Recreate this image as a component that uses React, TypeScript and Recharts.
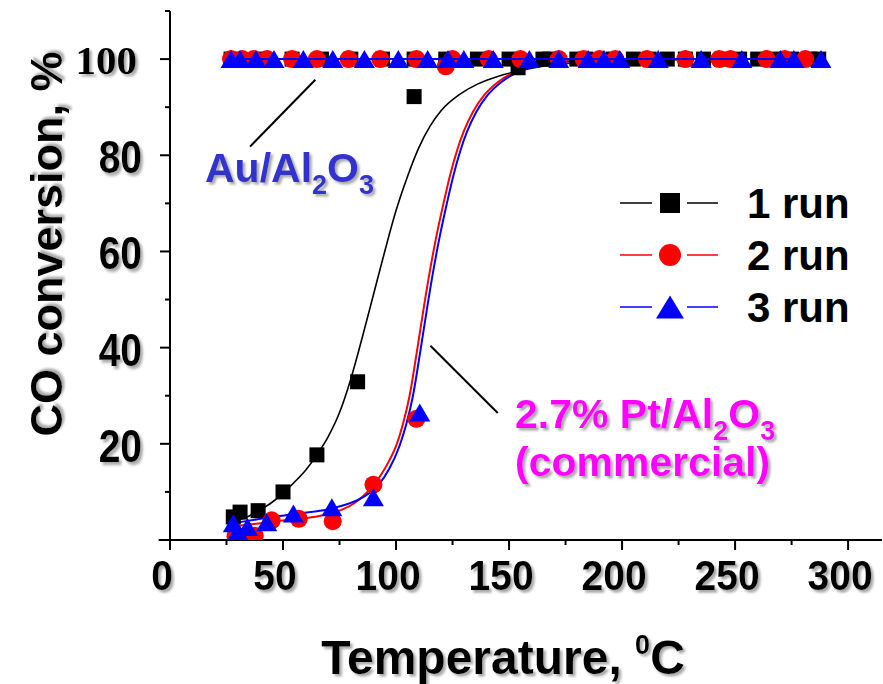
import React from 'react'
import { ComposedChart, Line, Scatter, XAxis, YAxis, ReferenceLine } from 'recharts'

const W = 883
const H = 684

// Au/Al2O3: full conversion over the whole temperature range
const auRun1T = [27, 40, 54, 67, 80, 94, 108, 122, 136, 150, 165, 180, 196, 212, 228, 244, 260, 275, 287]
const auRun1Y = [100, 100, 100, 100, 100, 100, 100, 100, 100, 100, 100, 100, 100, 100, 100, 100, 100, 100, 100]
const auRun2T = [27, 32, 37, 43, 54, 65, 79, 93, 109, 125, 141, 172, 190, 211, 243, 264, 281]
const auRun2Y = [100, 100, 100, 100, 100, 100, 100, 100, 100, 100, 100, 100, 100, 100, 100, 100, 100]
const auRun3T = [27, 31, 38, 46, 59, 72, 86, 101, 114, 123, 130, 143, 172, 192, 216, 253, 276]
const auRun3Y = [100, 100, 100, 100, 100, 100, 100, 100, 100, 100, 100, 100, 100, 100, 100, 100, 100]

// 2.7% Pt/Al2O3 (commercial), measured points
const ptRun1T = [28, 31, 39, 50, 65, 83, 108, 154, 168, 184, 205, 220, 236, 252, 268, 283]
const ptRun1Y = [4.8, 5.8, 6.1, 10.0, 17.7, 32.9, 92.2, 98.2, 100, 100, 100, 100, 100, 100, 100, 100]
const ptRun2T = [29, 31.5, 34, 37.5, 45, 57, 72, 90, 109, 122, 155, 183, 197, 228, 248, 272]
const ptRun2Y = [0.8, 0.5, 0.6, 0.9, 4.1, 4.4, 3.9, 11.5, 25.2, 98.5, 100, 100, 100, 100, 100, 100]
const ptRun3T = [28, 30, 34.3, 42.8, 54.6, 71.6, 90, 110.5, 159, 185, 199, 235, 270, 288]
const ptRun3Y = [3.5, 1.8, 2.7, 3.7, 5.5, 6.8, 8.9, 26.5, 100, 100, 100, 100, 100, 100]

// sigmoidal fits through each Pt run
const fit1T = [28, 35, 40, 45, 50, 55, 60, 65, 70, 75, 80, 85, 90, 95, 100, 105, 110, 115, 120, 128, 136, 145, 155, 165, 180, 200, 230, 260, 288]
const fit1Y = [3.8, 5.0, 6.3, 7.8, 9.7, 12, 14.5, 17.7, 21.5, 26.5, 33.5, 42, 51, 60, 68.5, 75.5, 81.5, 86, 89.3, 92.6, 94.8, 96.4, 97.6, 98.5, 99.3, 99.7, 99.9, 100, 100]
const fit2T = [28, 35, 45, 55, 65, 75, 82, 88, 93, 97, 100, 103, 106, 109, 112, 115, 118, 121, 124, 127, 130, 134, 139, 145, 152, 160, 170, 185, 200, 230, 260, 288]
const fit2Y = [2.8, 3.2, 3.8, 4.3, 4.9, 6.1, 7.8, 10.3, 13.3, 16.5, 19.5, 24, 30, 38.5, 47.5, 56, 63.5, 70, 76, 81, 85, 89, 92.5, 95.2, 97.2, 98.5, 99.3, 99.7, 99.9, 100, 100, 100]
const fit3T = [28, 40, 55, 72, 85, 92, 97, 101.5, 104.5, 107.5, 110.5, 113.5, 116.5, 119.5, 122.5, 125.5, 128.5, 131.5, 135.5, 140.5, 146.5, 153.5, 161.5, 171.5, 186, 200, 230, 260, 288]
const fit3Y = [3.5, 4.4, 5.4, 6.6, 8.8, 11.3, 14.8, 19.5, 24, 30, 38.5, 47.5, 56, 63.5, 70, 76, 81, 85, 89, 92.5, 95.2, 97.2, 98.5, 99.3, 99.7, 99.85, 100, 100, 100]

const xTicks = [0, 25, 50, 75, 100, 125, 150, 175, 200, 225, 250, 275, 300]
const xLabels = [0, 50, 100, 150, 200, 250, 300]
const yTicks = [0, 10, 20, 30, 40, 50, 60, 70, 80, 90, 100, 110]
const yLabels = [20, 40, 60, 80, 100]

const runNames = ['1 run', '2 run', '3 run']
const runColors = ['#000000', '#ff0000', '#0000ff']

const zip = (t: number[], y: number[]) => t.map((x, i) => ({ x, y: y[i] }))

const SANS = '"Liberation Sans", Arial, sans-serif'
const SERIF = '"Liberation Serif", "Times New Roman", serif'

function Square({ cx, cy, size = 15, color = '#000' }: any) {
  return <rect x={cx - size / 2} y={cy - size / 2} width={size} height={size} fill={color} />
}

function Dot({ cx, cy, r = 9, color = '#ff0000' }: any) {
  return <circle cx={cx} cy={cy} r={r} fill={color} />
}

function Tri({ cx, cy, w = 21, h = 18, color = '#0000ff' }: any) {
  return (
    <polygon
      points={`${cx},${cy - h / 2} ${cx + w / 2},${cy + h / 2} ${cx - w / 2},${cy + h / 2}`}
      fill={color}
    />
  )
}

function XTick(props: any) {
  const { x, y, payload } = props
  const v = payload.value
  const major = xLabels.includes(v)
  return (
    <g>
      <line x1={x} x2={x} y1={y} y2={y + (major ? 10 : 5)} stroke="#000" strokeWidth={2} />
      {major && (
        <g transform={`translate(${x - 8},${y + 50}) scale(1,1.08)`}>
          <text
            x={0}
            y={0}
            textAnchor="middle"
            fontFamily={SANS}
            fontWeight="bold"
            fontSize={39}
            fill="#000"
            filter="url(#txtShadow)"
          >
            {v}
          </text>
        </g>
      )}
    </g>
  )
}

function YTick(props: any) {
  const { x, y, payload } = props
  const v = payload.value
  const major = yLabels.includes(v)
  const serif = v === 100
  return (
    <g>
      <line x1={x} x2={x - (major ? 10 : 5)} y1={y} y2={y} stroke="#000" strokeWidth={2} />
      {major && (
        <g transform={`translate(${serif ? x - 33 : x - 28},${serif ? y + 15 : y + 18}) scale(1,${serif ? 1 : 1.2})`}>
          <text
            x={0}
            y={0}
            textAnchor="end"
            fontFamily={serif ? SERIF : SANS}
            fontWeight="bold"
            fontSize={serif ? 41 : 39}
            fill="#000"
            filter="url(#txtShadow)"
          >
            {v}
          </text>
        </g>
      )}
    </g>
  )
}

function XTitle(props: any) {
  const vb = props.viewBox
  return (
    <text
      x={vb.x + vb.width / 2 - 23}
      y={674}
      textAnchor="middle"
      fontFamily={SANS}
      fontWeight="bold"
      fontSize={48}
      fill="#000"
      filter="url(#txtShadow)"
    >
      Temperature,{' '}
      <tspan fontSize={27} dy={-20}>0</tspan>
      <tspan dy={20}>C</tspan>
    </text>
  )
}

function YTitle() {
  return (
    <text
      transform="translate(62,244) rotate(-90)"
      textAnchor="middle"
      fontFamily={SANS}
      fontWeight="bold"
      fontSize={45}
      fill="#000"
      filter="url(#txtShadow)"
    >
      CO conversion, %
    </text>
  )
}

function Legend() {
  const rows = [203, 255, 307]
  return (
    <g>
      {runNames.map((name, i) => {
        const cy = rows[i]
        const c = runColors[i]
        return (
          <g key={name}>
            <line x1={620} x2={652} y1={cy} y2={cy} stroke={c} strokeWidth={1.5} />
            <line x1={687} x2={718} y1={cy} y2={cy} stroke={c} strokeWidth={1.5} />
            {i === 0 && <Square cx={670} cy={cy} size={20} color={c} />}
            {i === 1 && <Dot cx={670} cy={cy} r={11} color={c} />}
            {i === 2 && <Tri cx={670} cy={cy} w={28} h={23} color={c} />}
            <text x={747} y={cy + 15} fontFamily={SANS} fontWeight="bold" fontSize={42} fill="#000">
              {name}
            </text>
          </g>
        )
      })}
    </g>
  )
}

function Notes() {
  return (
    <g fontFamily={SANS} fontWeight="bold" filter="url(#txtShadow)">
      <text x={205} y={182} fontSize={41} fill="#3333cc">
        Au/Al
        <tspan fontSize={27} dy={12}>2</tspan>
        <tspan dy={-12}>O</tspan>
        <tspan fontSize={27} dy={12}>3</tspan>
      </text>
      <text x={515} y={428} fontSize={41} fill="#ff00ff">
        2.7% Pt/Al
        <tspan fontSize={27} dy={12}>2</tspan>
        <tspan dy={-12}>O</tspan>
        <tspan fontSize={27} dy={12}>3</tspan>
      </text>
      <text x={515} y={476} fontSize={41} fill="#ff00ff">
        (commercial)
      </text>
    </g>
  )
}

export default function App() {
  const au1 = zip(auRun1T, auRun1Y)
  const au2 = zip(auRun2T, auRun2Y)
  const au3 = zip(auRun3T, auRun3Y)
  const pt1 = zip(ptRun1T, ptRun1Y)
  const pt2 = zip(ptRun2T, ptRun2Y)
  const pt3 = zip(ptRun3T, ptRun3Y)

  return (
    <div style={{ position: 'absolute', left: 0, top: 0, width: W, height: H, background: '#fff' }}>
      <ComposedChart width={W} height={H} margin={{ top: 11, right: 1, bottom: 0, left: 0 }}>
        <XAxis
          type="number"
          dataKey="x"
          domain={[0, 315]}
          ticks={xTicks}
          interval={0}
          height={144}
          tickLine={false}
          tickSize={0}
          tickMargin={0}
          tick={<XTick />}
          axisLine={{ stroke: '#000', strokeWidth: 2 }}
          allowDataOverflow
          label={(p: any) => <XTitle {...p} />}
        />
        <YAxis
          type="number"
          dataKey="y"
          domain={[0, 110]}
          ticks={yTicks}
          interval={0}
          width={170}
          tickLine={false}
          tickSize={0}
          tickMargin={0}
          tick={<YTick />}
          axisLine={{ stroke: '#000', strokeWidth: 2 }}
          allowDataOverflow
          label={() => <YTitle />}
        />
        <ReferenceLine segment={[{ x: -5, y: 0 }, { x: 0, y: 0 }]} stroke="#000" strokeWidth={2} ifOverflow="visible" />
        <ReferenceLine segment={[{ x: 35.4, y: 81.8 }, { x: 64.3, y: 95.7 }]} stroke="#000" strokeWidth={2} />
        <ReferenceLine segment={[{ x: 115.2, y: 40.4 }, { x: 145, y: 26.4 }]} stroke="#000" strokeWidth={2} />

        <Line data={zip(fit1T, fit1Y)} dataKey="y" type="monotone" stroke="#000" strokeWidth={1.6} dot={false} isAnimationActive={false} />
        <Line data={zip(fit2T, fit2Y)} dataKey="y" type="monotone" stroke="#ff0000" strokeWidth={2} dot={false} isAnimationActive={false} />
        <Line data={zip(fit3T, fit3Y)} dataKey="y" type="monotone" stroke="#0000ff" strokeWidth={2} dot={false} isAnimationActive={false} />

        <Scatter data={pt1} dataKey="y" isAnimationActive={false} shape={(p: any) => <Square cx={p.cx} cy={p.cy} />} />
        <Scatter data={au1} dataKey="y" isAnimationActive={false} line={{ stroke: '#000', strokeWidth: 2 }} lineType="joint" shape={(p: any) => <Square cx={p.cx} cy={p.cy} />} />
        <Scatter data={pt2} dataKey="y" isAnimationActive={false} shape={(p: any) => <Dot cx={p.cx} cy={p.cy} />} />
        <Scatter data={au2} dataKey="y" isAnimationActive={false} line={{ stroke: '#ff0000', strokeWidth: 2 }} lineType="joint" shape={(p: any) => <Dot cx={p.cx} cy={p.cy} />} />
        <Scatter data={pt3} dataKey="y" isAnimationActive={false} shape={(p: any) => <Tri cx={p.cx} cy={p.cy} />} />
        <Scatter data={au3} dataKey="y" isAnimationActive={false} line={{ stroke: '#0000ff', strokeWidth: 2 }} lineType="joint" shape={(p: any) => <Tri cx={p.cx} cy={p.cy} />} />
      </ComposedChart>
      <svg width={W} height={H} style={{ position: 'absolute', left: 0, top: 0, pointerEvents: 'none' }}>
        <defs>
          <filter id="txtShadow" x="-10%" y="-10%" width="130%" height="130%">
            <feDropShadow dx={2.5} dy={2.5} stdDeviation={1.2} floodColor="#8c8c8c" floodOpacity={0.75} />
          </filter>
        </defs>
        <Legend />
        <Notes />
      </svg>
    </div>
  )
}
